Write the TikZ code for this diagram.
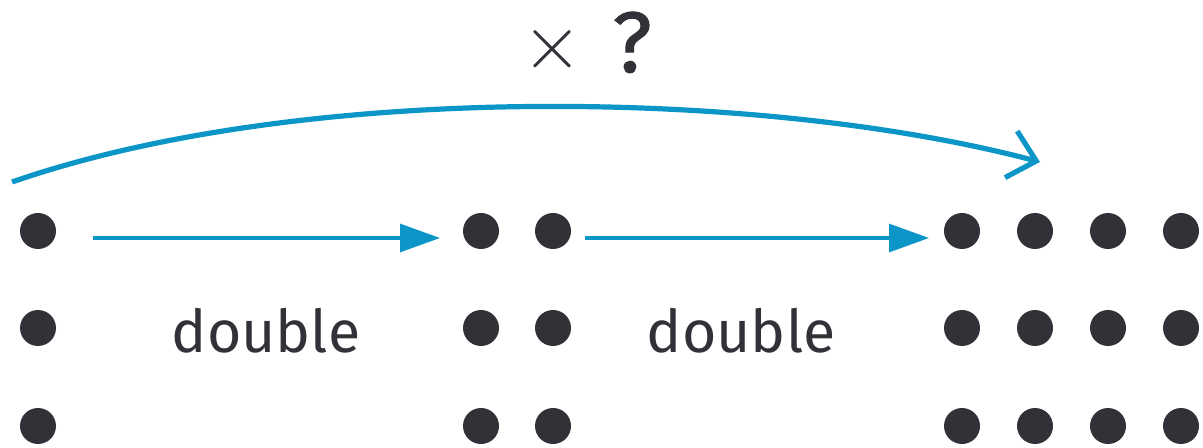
\documentclass[tikz,border=0pt]{standalone}
\usepackage{fontspec}
\setmainfont{Fira Sans}
\usepackage{graphicx}
\usepackage{tikz}
\usetikzlibrary{arrows.meta}
\usepackage{xcolor}
\definecolor{dotgray}{RGB}{48,50,56}
\definecolor{arrowblue}{RGB}{12,150,200}
\tikzset{
    dot/.style={circle, fill=dotgray, inner sep=0pt, minimum size=18pt},
    label/.style={text=dotgray, font=\fontsize{29.5}{34}\selectfont, anchor=base},
    steparrow/.style={draw=arrowblue, line width=1.6pt, -{Triangle[length=20pt,width=14pt]}}
}

\begin{document}
\begin{tikzpicture}[x=0.5pt, y=-0.5pt]
        \useasboundingbox (0,0) rectangle (1203,448);
        % one column
        \foreach \r/\y in {1/231, 2/328, 3/426}
            \node[dot] (p\r) at (38,\y) {};
        % two columns
        \foreach \c/\x in {1/481, 2/553}
            \foreach \r/\y in {1/231, 2/328, 3/426}
                \node[dot] (q\c-\r) at (\x,\y) {};
        % four columns
        \foreach \c/\x in {1/962, 2/1035, 3/1108, 4/1181}
            \foreach \r/\y in {1/231, 2/328, 3/426}
                \node[dot] (t\c-\r) at (\x,\y) {};
        \coordinate (a1) at (93,238);
        \coordinate (b1) at (440,238);
        \coordinate (a2) at (585,238);
        \coordinate (b2) at (929,238);
        \draw[steparrow] (a1) -- (b1);
        \draw[steparrow] (a2) -- (b2);
        \node[label] (d1) at (266,352) {double};
        \node[label] (d2) at (741,352) {double};
        \coordinate (cs) at (12,182);
        \coordinate (ce) at (1040,162);
        \draw[arrowblue, line width=2.6pt, -{Straight Barb[length=13pt,width=24pt]}]
            (cs) .. controls (300,82) and (760,88) .. (ce);
        \node[text=dotgray, anchor=base, inner sep=0pt] (q) at (587,72)
            {\fontsize{24}{28}\selectfont\raisebox{1.5pt}{\scalebox{1.55}{$\times$}}\hspace{15pt}\fontsize{43}{48}\selectfont\addfontfeature{FakeBold=1}?};
    \end{tikzpicture}
\end{document}
